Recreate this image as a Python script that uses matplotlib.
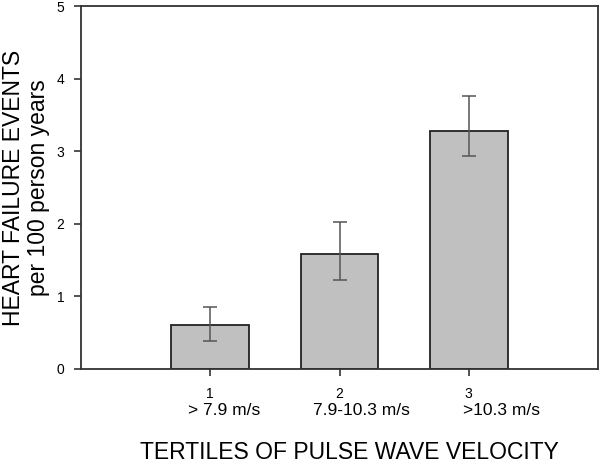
import matplotlib
matplotlib.use("Agg")
import matplotlib.pyplot as plt

plt.rcParams["font.family"] = ["Liberation Sans", "DejaVu Sans"]

# datos
tertiles = [1, 2, 3]
tick_labels = ["1", "2", "3"]
range_labels = ["> 7.9 m/s", "7.9-10.3 m/s", ">10.3 m/s"]
range_label_x = [1.11, 2.17, 3.25]
events = [0.60, 1.59, 3.28]
err_low = [0.39, 1.22, 2.94]
err_high = [0.85, 2.03, 3.76]

yerr = [
    [e - lo for e, lo in zip(events, err_low)],
    [hi - e for e, hi in zip(events, err_high)],
]

fig = plt.figure(figsize=(6.0, 4.62), dpi=100)
ax = fig.add_axes([0.135, 0.2013, 0.8617, 0.7857])

ax.bar(tertiles, events, width=0.6, color="#c0c0c0", edgecolor="#222222",
       linewidth=1.3, zorder=2)
ax.errorbar(tertiles, events, yerr=yerr, fmt="none", ecolor="#555555",
            elinewidth=1.1, capsize=4.7, capthick=1.1, zorder=3)

ax.set_xlim(0, 4)
ax.set_ylim(0, 5)
ax.set_yticks([0, 1, 2, 3, 4, 5])
ax.set_xticks(tertiles)
ax.set_xticklabels(tick_labels)
ax.tick_params(axis="both", direction="out", length=5, width=1.1,
               labelsize=10, color="#222222", pad=7)
ax.tick_params(axis="x", pad=8)

for s in ax.spines.values():
    s.set_linewidth(1.3)
    s.set_color("#333333")

for x, lab in zip(range_label_x, range_labels):
    ax.text(x, -0.57, lab, ha="center", va="center", fontsize=12.5)

ax.set_xlabel("TERTILES OF PULSE WAVE VELOCITY", fontsize=16.5)
ax.xaxis.set_label_coords(0.52, -0.197)
ax.set_ylabel("HEART FAILURE EVENTS\nper 100 person years", fontsize=16.5,
              linespacing=1.15)
ax.yaxis.set_label_coords(-0.059, 0.5)

fig.savefig("out.png", dpi=100)
plt.close(fig)
